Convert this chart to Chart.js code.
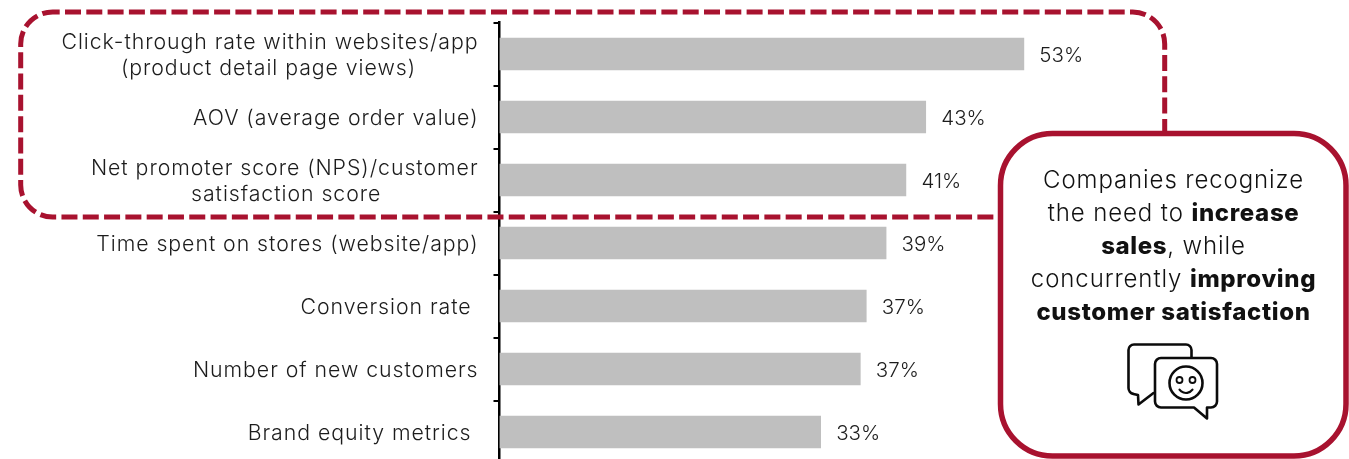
<!DOCTYPE html>
<html>
<head>
<meta charset="utf-8">
<style>
html,body{margin:0;padding:0;background:#fff;overflow:hidden;width:1349px;height:459px}
#w{position:absolute;left:0;top:0;width:1349px;height:459px;overflow:hidden}
canvas{display:block}
</style>
<script src="https://cdn.jsdelivr.net/npm/chart.js@4"></script>
</head>
<body>
<div id="w"><canvas id="c" width="1349" height="482"></canvas></div>
<script>
// ---- data ----
const categories = [
  ["Click-through rate within websites/app", "(product detail page views)"],
  "AOV (average order value)",
  ["Net promoter score (NPS)/customer", "satisfaction score"],
  "Time spent on stores (website/app)",
  "Conversion rate ",
  "Number of new customers",
  "Brand equity metrics "
];
const barValues = [52.9, 43, 41, 39, 37, 36.4, 32.4];
const valueLabels = ["53%", "43%", "41%", "39%", "37%", "37%", "33%"];
const calloutLines = [
  [["Companies recognize", false]],
  [["the need to ", false], ["increase", true]],
  [["sales", true], [", while", false]],
  [["concurrently ", false], ["improving", true]],
  [["customer satisfaction", true]]
];

// ---- style ----
const RED = "#A8122F", INK = "#1c1c1c", BAR = "#BFBFBF";
const FAMILY = "Inter";
const LABEL_WEIGHT = 300, LABEL_PX = 21.3, LABEL_LS = "0.95px";
const CALL_PX = 24, CALL_LS_R = "0.9px", CALL_LS_B = "0.65px";

// pad short lines of a wrapped label so they sit centred under the long line
const mctx = document.createElement("canvas").getContext("2d");
function tickText(label) {
  if (!Array.isArray(label)) return label;
  mctx.font = LABEL_WEIGHT + " " + LABEL_PX + "px " + FAMILY;
  mctx.letterSpacing = LABEL_LS;
  const sp = mctx.measureText(" ").width;
  const widths = label.map(s => mctx.measureText(s).width);
  const max = Math.max(...widths);
  return label.map((s, i) => s + " ".repeat(Math.round((max - widths[i]) / 2 / sp)));
}

let labelsNudged = false;
const overlay = {
  id: "overlay",
  beforeDraw(chart) {
    chart.ctx.letterSpacing = LABEL_LS;
    // tick labels sit a little below the band centre in the original
    if (!labelsNudged) {
      chart.scales.y.getLabelItems().forEach(it => { it.options.translation[1] += 1.5; });
      labelsNudged = true;
    }
  },
  afterDatasetsDraw(chart) {
    const { ctx, scales } = chart;
    ctx.save();
    // value labels
    ctx.font = LABEL_WEIGHT + " 20.5px " + FAMILY;
    ctx.letterSpacing = "0px";
    ctx.fillStyle = INK;
    ctx.textAlign = "left";
    ctx.textBaseline = "middle";
    barValues.forEach((v, i) => {
      ctx.fillText(valueLabels[i], scales.x.getPixelForValue(v) + 15.5, scales.y.getPixelForValue(i) + 1.5);
    });
    // dashed highlight
    ctx.strokeStyle = RED;
    ctx.lineWidth = 5;
    ctx.setLineDash([16, 5.3]);
    ctx.lineDashOffset = 9;
    ctx.beginPath();
    ctx.roundRect(20.7, 12, 1144, 205, 32);
    ctx.stroke();
    ctx.setLineDash([]);
    // callout
    ctx.fillStyle = "#fff";
    ctx.lineWidth = 5.5;
    ctx.beginPath();
    ctx.roundRect(1000.5, 133.5, 345.5, 322.5, 52);
    ctx.fill();
    ctx.stroke();
    // callout text
    ctx.fillStyle = "#111";
    ctx.textAlign = "left";
    const setRun = b => {
      ctx.font = (b ? "800 " : LABEL_WEIGHT + " ") + CALL_PX + "px " + FAMILY;
      ctx.letterSpacing = b ? CALL_LS_B : CALL_LS_R;
    };
    calloutLines.forEach((runs, li) => {
      let w = 0;
      runs.forEach(r => { setRun(r[1]); w += ctx.measureText(r[0]).width; });
      let x = 1173.5 - w / 2;
      const y = 181 + li * 33;
      runs.forEach(r => { setRun(r[1]); ctx.fillText(r[0], x, y); x += ctx.measureText(r[0]).width; });
    });
    ctx.letterSpacing = "0px";
    // speech-bubble icon
    ctx.strokeStyle = "#0b0b0b";
    ctx.lineWidth = 2.6;
    ctx.lineJoin = "round";
    ctx.lineCap = "round";
    // back bubble
    ctx.beginPath();
    ctx.moveTo(1191.5, 357);
    ctx.lineTo(1191.5, 350);
    ctx.arcTo(1191.5, 344.5, 1186, 344.5, 5.5);
    ctx.lineTo(1134, 344.5);
    ctx.arcTo(1128.5, 344.5, 1128.5, 350, 5.5);
    ctx.lineTo(1128.5, 386);
    ctx.arcTo(1128.5, 393, 1134, 394, 6);
    ctx.lineTo(1138, 395);
    ctx.lineTo(1138.5, 404.5);
    ctx.lineTo(1153.5, 393);
    ctx.stroke();
    // front bubble
    ctx.beginPath();
    ctx.moveTo(1161, 358);
    ctx.lineTo(1211, 358);
    ctx.arcTo(1217, 358, 1217, 364, 6);
    ctx.lineTo(1217, 401);
    ctx.arcTo(1217, 407.5, 1211, 407.5, 6);
    ctx.lineTo(1207, 407.5);
    ctx.lineTo(1207, 418.5);
    ctx.lineTo(1194, 407.5);
    ctx.lineTo(1161, 407.5);
    ctx.arcTo(1155, 407.5, 1155, 401, 6);
    ctx.lineTo(1155, 364);
    ctx.arcTo(1155, 358, 1161, 358, 6);
    ctx.closePath();
    ctx.stroke();
    // face
    ctx.beginPath(); ctx.arc(1186, 383, 16.5, 0, Math.PI * 2); ctx.stroke();
    ctx.lineWidth = 1.8;
    ctx.beginPath(); ctx.arc(1179.5, 380, 3, 0, Math.PI * 2); ctx.stroke();
    ctx.beginPath(); ctx.arc(1192.5, 380, 3, 0, Math.PI * 2); ctx.stroke();
    ctx.lineWidth = 2.2;
    ctx.beginPath(); ctx.arc(1186, 385, 8, 0.2 * Math.PI, 0.8 * Math.PI); ctx.stroke();
    ctx.restore();
  }
};

new Chart(document.getElementById("c"), {
  type: "bar",
  data: {
    labels: categories,
    datasets: [{ data: barValues, backgroundColor: BAR, borderWidth: 0, barThickness: 32, categoryPercentage: 1 }]
  },
  options: {
    indexAxis: "y",
    responsive: false,
    animation: false,
    layout: { autoPadding: false, padding: { left: 0, right: 0, top: 22.5, bottom: 18.5 } },
    plugins: { legend: { display: false }, tooltip: { enabled: false } },
    scales: {
      x: { display: false, min: 0, max: 85.7 },
      y: {
        afterFit(s) { s.width = 499.5; s.paddingTop = 0; s.paddingBottom = 0; },
        border: { color: "#000", width: 2.5 },
        grid: { drawOnChartArea: false, drawTicks: true, tickLength: 6, color: "#000", lineWidth: 2 },
        ticks: {
          color: INK,
          autoSkip: false,
          padding: 15,
          font: { family: FAMILY, size: LABEL_PX, weight: LABEL_WEIGHT, lineHeight: 1.25 },
          callback(v, i) { return tickText(categories[i]); }
        }
      }
    }
  },
  plugins: [overlay]
});
</script>
</body>
</html>
